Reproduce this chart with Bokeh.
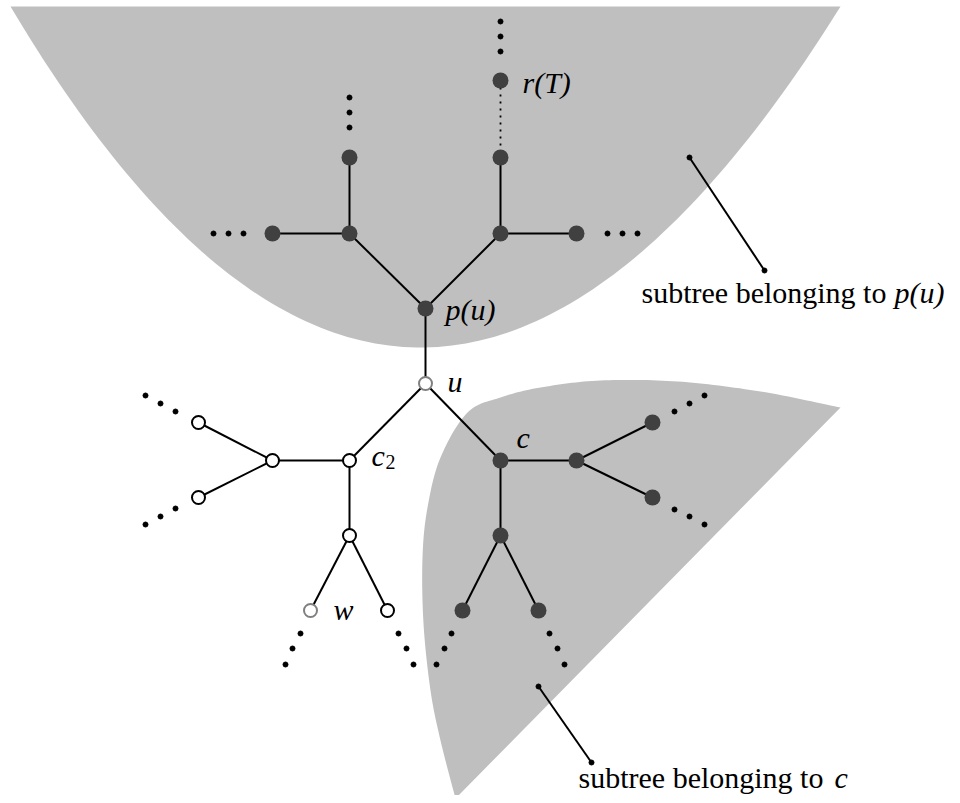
import numpy as np
from bokeh.plotting import figure
from bokeh.models import Range1d
from bokeh.core.properties import value
from bokeh.embed import file_html
from bokeh.resources import INLINE

# ---------------- data ----------------
node_names = ["rT", "A", "B", "C", "D", "E", "F", "pu", "u", "c2", "G", "H", "I",
              "J", "w", "K", "c", "O", "P", "Q", "N", "L", "M"]
node_x = [500, 500, 349, 349, 500, 272, 576, 425, 425, 349, 272, 198, 198,
          349, 310, 387, 500, 576, 652, 652, 500, 462, 538]
node_y = [80, 157, 157, 233, 233, 233, 233, 308, 383, 460, 460, 422, 497,
          535, 610, 610, 460, 460, 422, 497, 535, 610, 610]
node_kind = ["dark", "dark", "dark", "dark", "dark", "dark", "dark", "dark", "gray", "white",
             "white", "white", "white", "white", "gray", "white", "dark", "dark", "dark",
             "dark", "dark", "dark", "dark"]

edges = [("A", "D"), ("B", "C"), ("C", "E"), ("D", "F"), ("C", "pu"), ("D", "pu"),
         ("pu", "u"), ("u", "c2"), ("u", "c"), ("c2", "G"), ("G", "H"), ("G", "I"),
         ("c2", "J"), ("J", "w"), ("J", "K"), ("c", "O"), ("O", "P"), ("O", "Q"),
         ("c", "N"), ("N", "L"), ("N", "M")]
dotted_edges = [("rT", "A")]

dots_x = [500, 500, 500, 349, 349, 349, 213, 228, 243, 607, 622, 637,
          145, 160, 175, 175, 160, 145, 300, 292, 285, 398, 406, 413,
          451, 444, 436, 549, 557, 564, 674, 689, 704, 674, 689, 704]
dots_y = [21, 36, 51, 97, 112, 127, 233, 233, 233, 233, 233, 233,
          395, 403, 411, 508, 516, 524, 633, 648, 664, 633, 648, 664,
          633, 648, 664, 633, 648, 664, 411, 403, 395, 509, 516, 524]

# shaded regions (control points)
top_region_ctrl_x = [10, 415, 840]
top_region_ctrl_y = [6, 688, 6]
low_region_x = [455, 440, 430, 423, 422, 427, 440, 467, 500, 540, 600, 677, 760, 840]
low_region_y = [798, 740, 690, 623, 557, 507, 457, 412, 397, 387, 380, 381, 391, 407]

# annotation pointers
pointer_x0 = [689, 538]
pointer_y0 = [157, 686]
pointer_x1 = [764, 591]
pointer_y1 = [270, 762]

# labels (baselines as measured)
label_text = ["r(T)", "p(u)", "u", "c", "c", "w"]
label_x = [522, 445, 447, 516, 371, 333]
label_y = [90, 317, 389, 445, 463, 617]
sub_text = ["2"]
sub_x = [385]
sub_y = [469]

caption_text = ["subtree belonging to", "subtree belonging to"]
caption_start_x = [641, 578]
caption_y = [300, 785]
caption_math = ["p(u)", "c"]
caption_math_x = [894, 834]

BASE_SHIFT = -8  # renderer places alphabetic baseline slightly low; compensate

# ---------------- helpers ----------------
def quad_bezier(px, py, n=120):
    t = np.linspace(0, 1, n)
    x = (1 - t) ** 2 * px[0] + 2 * (1 - t) * t * px[1] + t ** 2 * px[2]
    y = (1 - t) ** 2 * py[0] + 2 * (1 - t) * t * py[1] + t ** 2 * py[2]
    return x, y

def catmull(xs, ys, n=16):
    pts = np.array(list(zip(xs, ys)), dtype=float)
    pts = np.vstack([pts[0], pts, pts[-1]])
    out = []
    for i in range(1, len(pts) - 2):
        p0, p1, p2, p3 = pts[i - 1], pts[i], pts[i + 1], pts[i + 2]
        for t in np.linspace(0, 1, n, endpoint=False):
            t2, t3 = t * t, t * t * t
            out.append(0.5 * ((2 * p1) + (-p0 + p2) * t + (2 * p0 - 5 * p1 + 4 * p2 - p3) * t2
                              + (-p0 + 3 * p1 - 3 * p2 + p3) * t3))
    out.append(pts[-2])
    out = np.array(out)
    return out[:, 0], out[:, 1]

def sh(ys):
    return [y + BASE_SHIFT for y in ys]

W, H = 952, 795
p = figure(width=W, height=H, output_backend="svg", toolbar_location=None,
           x_range=Range1d(0, W), y_range=Range1d(H, 0),
           min_border=0, outline_line_color=None)
p.axis.visible = False
p.grid.visible = False
p.background_fill_color = "white"
p.border_fill_color = "white"

GRAY = "#bfbfbf"
DARK = "#404040"

# shaded regions
tx, ty = quad_bezier(top_region_ctrl_x, top_region_ctrl_y)
p.patch(list(tx), list(ty), fill_color=GRAY, line_color=None)
lx, ly = catmull(low_region_x, low_region_y)
p.patch(list(lx), list(ly), fill_color=GRAY, line_color=None)

# pointers
p.segment(pointer_x0, pointer_y0, pointer_x1, pointer_y1, line_color="black", line_width=2)
p.scatter(pointer_x0 + pointer_x1, pointer_y0 + pointer_y1, size=5, color="black")

# edges
idx = {n: i for i, n in enumerate(node_names)}
ex0 = [node_x[idx[a]] for a, b in edges]
ey0 = [node_y[idx[a]] for a, b in edges]
ex1 = [node_x[idx[b]] for a, b in edges]
ey1 = [node_y[idx[b]] for a, b in edges]
p.segment(ex0, ey0, ex1, ey1, line_color="black", line_width=2)

dx0 = [node_x[idx[a]] for a, b in dotted_edges]
dy0 = [node_y[idx[a]] for a, b in dotted_edges]
dx1 = [node_x[idx[b]] for a, b in dotted_edges]
dy1 = [node_y[idx[b]] for a, b in dotted_edges]
p.segment(dx0, dy0, dx1, dy1, line_color="black", line_width=1.8, line_dash="2 5")

# nodes
def sel(kind):
    xs = [x for x, k in zip(node_x, node_kind) if k == kind]
    ys = [y for y, k in zip(node_y, node_kind) if k == kind]
    return xs, ys

xs, ys = sel("dark")
p.scatter(xs, ys, size=16, fill_color=DARK, line_color=None)
xs, ys = sel("white")
p.scatter(xs, ys, size=13, fill_color="white", line_color="black", line_width=2)
xs, ys = sel("gray")
p.scatter(xs, ys, size=13, fill_color="white", line_color="#808080", line_width=2)

# ellipsis dots
p.scatter(dots_x, dots_y, size=5, color="black")

FONT = value("Liberation Serif")
p.text(label_x, sh(label_y), text=label_text, text_font=FONT, text_font_size="30px",
       text_font_style="italic", text_baseline="alphabetic", text_align="left", text_color="black")
p.text(sub_x, sh(sub_y), text=sub_text, text_font=FONT, text_font_size="20px",
       text_baseline="alphabetic", text_align="left", text_color="black")
p.text(caption_start_x, sh(caption_y), text=caption_text, text_font=FONT, text_font_size="30px",
       text_baseline="alphabetic", text_align="left", text_color="black")
p.text(caption_math_x, sh(caption_y), text=caption_math, text_font=FONT, text_font_size="30px",
       text_font_style="italic", text_baseline="alphabetic", text_align="left", text_color="black")

open("out.html", "w").write(file_html(p, INLINE))
